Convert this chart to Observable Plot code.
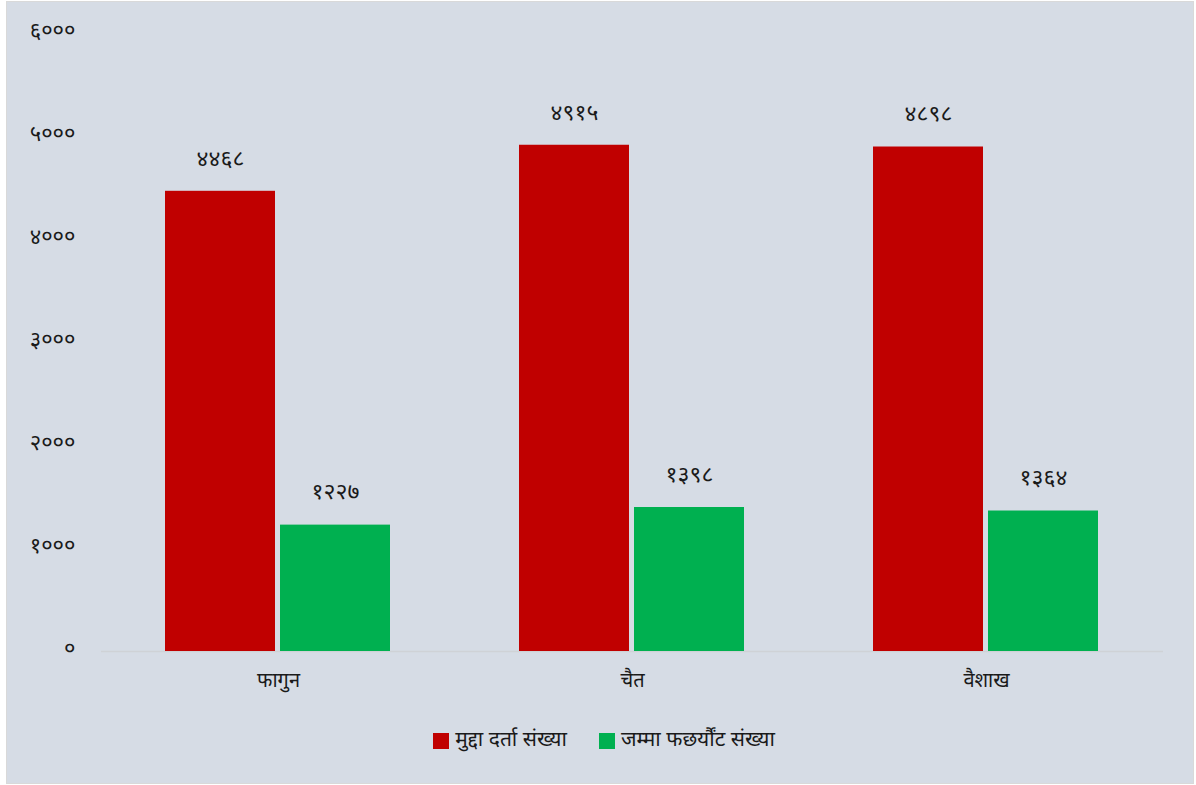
<!DOCTYPE html>
<html>
<head>
<meta charset="utf-8">
<script src="https://cdn.jsdelivr.net/npm/d3@7"></script>
<script src="https://cdn.jsdelivr.net/npm/@observablehq/plot@0.6"></script>
<style>
  html, body { margin: 0; padding: 0; background: #ffffff; }
  #panel {
    position: absolute; left: 6px; top: 1px; width: 1188px; height: 783px;
    box-sizing: border-box; border: 1px solid #d9d9d9; background: #d6dce5;
    font-family: "Noto Sans Devanagari", "Noto Sans", sans-serif;
  }
  #legend {
    display: flex; justify-content: center; align-items: center; gap: 32px;
    font-size: 21px; color: #1a1a1a; margin-top: 10px; padding-left: 8px;
  }
  .item { display: flex; align-items: center; gap: 6px; }
  .sw { width: 16px; height: 16px; display: inline-block; }
</style>
</head>
<body>
<div id="panel"></div>
<script>
const months = ["फागुन", "चैत", "वैशाख"];
const seriesNames = ["मुद्दा दर्ता संख्या", "जम्मा फछर्यौंट संख्या"];
const seriesColors = ["#c00000", "#00b050"];
const registered = [4468, 4915, 4898];
const settled = [1227, 1398, 1364];
const yTicks = [0, 1000, 2000, 3000, 4000, 5000, 6000];

const deva = n => String(n).replace(/\d/g, d => "०१२३४५६७८९"[+d]);

const data = [];
months.forEach((m, i) => {
  data.push({month: m, series: seriesNames[0], value: registered[i]});
  data.push({month: m, series: seriesNames[1], value: settled[i]});
});

const chart = Plot.plot({
  width: 1186,
  height: 715,
  marginLeft: 94,
  marginRight: 30,
  marginTop: 31,
  marginBottom: 66,
  style: {background: "transparent", fontFamily: "\"Noto Sans Devanagari\", \"Noto Sans\", sans-serif", color: "#1a1a1a", overflow: "visible"},
  fx: {domain: months, padding: 0, label: null, axis: null},
  x: {domain: seriesNames, axis: null, paddingInner: 0.043, paddingOuter: 0.55},
  y: {domain: [0, 6000], label: null, axis: null},
  color: {domain: seriesNames, range: seriesColors},
  marks: [
    Plot.axisFx({anchor: "bottom", tickSize: 0, tickPadding: 21, fontSize: 20, label: null}),
    Plot.axisY({anchor: "left", ticks: yTicks, tickFormat: deva, tickSize: 0, tickPadding: 26, fontSize: 22, label: null, dy: -3}),
    Plot.ruleY([0], {stroke: "#cfd2d6", strokeWidth: 1.5}),
    Plot.barY(data, {fx: "month", x: "series", y: "value", fill: "series"}),
    Plot.text(data, {fx: "month", x: "series", y: "value", text: d => deva(d.value), dy: -33, fontSize: 23, fill: "#1a1a1a"})
  ]
});

const panel = document.getElementById("panel");
panel.appendChild(chart);

const legend = d3.select(panel).append("div").attr("id", "legend");
const items = legend.selectAll(".item").data(seriesNames).join("div").attr("class", "item");
items.append("span").attr("class", "sw").style("background", (d, i) => seriesColors[i]);
items.append("span").text(d => d);
</script>
</body>
</html>
